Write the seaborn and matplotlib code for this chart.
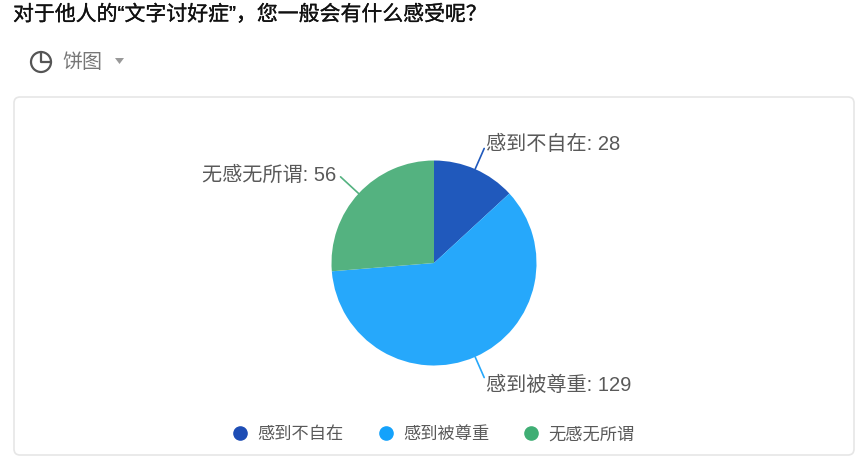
import numpy as np
import matplotlib
matplotlib.use('Agg')
import matplotlib.pyplot as plt
import matplotlib.patheffects as pe
from matplotlib.lines import Line2D
from matplotlib.patches import Circle, FancyBboxPatch, Polygon
import seaborn as sns

title = "对于他人的“文字讨好症”，您一般会有什么感受呢？"
chart_type = "饼图"
categories = ["感到不自在", "感到被尊重", "无感无所谓"]
values = [28, 129, 56]
slice_colors = ["#2059BC", "#26A8FB", "#54B280"]
legend_colors = ["#1D4DB5", "#14A2FB", "#3FAE74"]

sns.set_theme(style="white")
plt.rcParams['font.family'] = ['Liberation Sans', 'Noto Sans CJK SC', 'DejaVu Sans']
palette = sns.color_palette(slice_colors)

W, H = 865, 459
fig = plt.figure(figsize=(W / 100, H / 100), dpi=100, facecolor="white")

# page furniture, in pixel coordinates
bg = fig.add_axes([0, 0, 1, 1])
bg.set_xlim(0, W)
bg.set_ylim(H, 0)
bg.axis('off')

bg.text(13, 14.5, title, fontsize=15.05, color="#111111", va='center', ha='left',
        path_effects=[pe.withStroke(linewidth=0.2, foreground="#111111")])
bg.add_patch(Circle((41, 62), 10, fill=False, ec="#555555", lw=1.6))
bg.add_line(Line2D([41, 41, 51], [52, 62, 62], color="#555555", lw=1.6))
bg.text(62, 63, chart_type, fontsize=14.4, color="#777777", va='center', ha='left')
bg.add_patch(Polygon([(115, 58), (124, 58), (119.5, 64)], fc="#999999", ec="none"))
bg.add_patch(FancyBboxPatch((14, 97), 840, 358, boxstyle="round,pad=0,rounding_size=6",
                            fc="white", ec="#E6E6E6", lw=1.2))

# pie, centre (434, 263) radius 102.5 px
ax = fig.add_axes([(434 - 102.5) / W, 1 - (263 + 102.5) / H, 205 / W, 205 / H])
wedges, _ = ax.pie(values, colors=palette, startangle=90, counterclock=False, radius=1,
                   wedgeprops={'linewidth': 0})
ax.set_xlim(-1, 1)
ax.set_ylim(-1, 1)

# leader lines and labels follow the slice mid angles
reach = [1.22, 1.22, 1.24]
offsets = [(2, 4), (2, -8), (-4, 2)]
for wedge, cat, val, r, off in zip(wedges, categories, values, reach, offsets):
    mid = np.deg2rad((wedge.theta1 + wedge.theta2) / 2)
    dx, dy = np.cos(mid), np.sin(mid)
    ax.plot([dx, r * dx], [dy, r * dy], color=wedge.get_facecolor(), lw=1.2, clip_on=False)
    ax.annotate(f"{cat}: {val}", xy=(r * dx, r * dy), xytext=off, textcoords='offset pixels',
                fontsize=14.5, color="#595959", va='center',
                ha='left' if dx > 0 else 'right', annotation_clip=False)

handles = [Line2D([], [], marker='o', ls='none', color=c, markersize=9.5) for c in legend_colors]
bg.legend(handles, categories, ncol=3, loc='center', bbox_to_anchor=(433, 434.5),
          bbox_transform=bg.transData, frameon=False, fontsize=12.4, labelcolor="#595959",
          handletextpad=0.5, columnspacing=1.95, handlelength=1.0)

plt.savefig("out.png", dpi=100)
